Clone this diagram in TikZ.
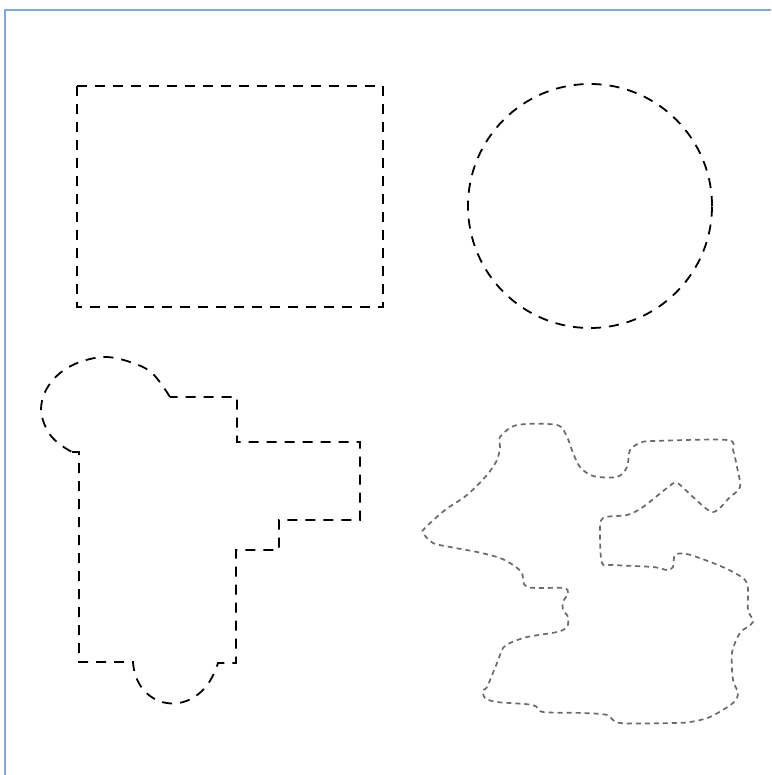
\documentclass[tikz,border=0pt]{standalone}
\usepackage{tikz}
\usetikzlibrary{calc}
\usepackage{xcolor}
\definecolor{framecol}{HTML}{7FA8DC}
\definecolor{roughcol}{HTML}{6A6A6A}

\begin{document}
\begin{tikzpicture}[
  x=1pt, y=-1pt,
  outline/.style={line width=1.8pt, black, dash pattern=on 10pt off 8pt},
  roughline/.style={line width=1.7pt, roughcol, dash pattern=on 5pt off 4pt},
  frame/.style={line width=1.1pt, framecol}
]
  \useasboundingbox (0,0) rectangle (771,775);

  % Frame
  \draw[frame] (5,775) -- (5,10) -- (771,10);

  % Rectangle
  \draw[outline] (77,86) rectangle (383,307);

  % Circle
  \draw[outline] (590,206) circle[radius=122pt];

  % Stepped shape with round head
  \draw[outline, line join=miter]
    (72,452) -- (79,452) -- (79,662) -- (133,662)
    .. controls (136,712) and (200,722) .. (218,663)
    -- (236,663) -- (236,550) -- (279,550) -- (279,520) -- (360,520)
    -- (360,442) -- (237,442) -- (237,397) -- (170,397);
  \draw[outline] plot[smooth, tension=0.6] coordinates {
    (170,397) (152,373) (130,362) (105,357) (80,362) (60,373)
    (46,390) (41,410) (47,430) (58,443) (72,452)};

  % Rough shape
  \draw[roughline] plot[smooth cycle, tension=0.5] coordinates {
    (517,425) (557,425) (567,437) (573,453) (580,467) (593,476)
    (617,477) (627,467) (630,450) (640,443) (653,441) (727,440)
    (733,450) (737,467) (740,487) (730,497) (713,512) (693,497)
    (677,483) (667,488) (643,507) (627,515) (603,518) (600,533)
    (602,563) (613,565) (653,567) (667,570) (673,567) (675,555)
    (687,554) (713,563) (733,572) (747,583) (748,610) (753,622)
    (740,633) (732,653) (733,680) (738,693) (733,703) (710,717)
    (690,722) (673,723) (620,723) (607,715) (583,713) (543,712)
    (533,705) (497,702) (485,698) (483,690) (487,687) (497,663)
    (503,648) (510,643) (527,637) (557,632) (567,627) (568,617)
    (563,610) (563,602) (568,593) (563,588) (527,587) (522,573)
    (513,565) (500,558) (477,552) (450,547) (433,543) (423,533)
    (425,528) (445,510) (467,495) (487,475) (497,460) (500,447)
    (500,437)};
\end{tikzpicture}
\end{document}
